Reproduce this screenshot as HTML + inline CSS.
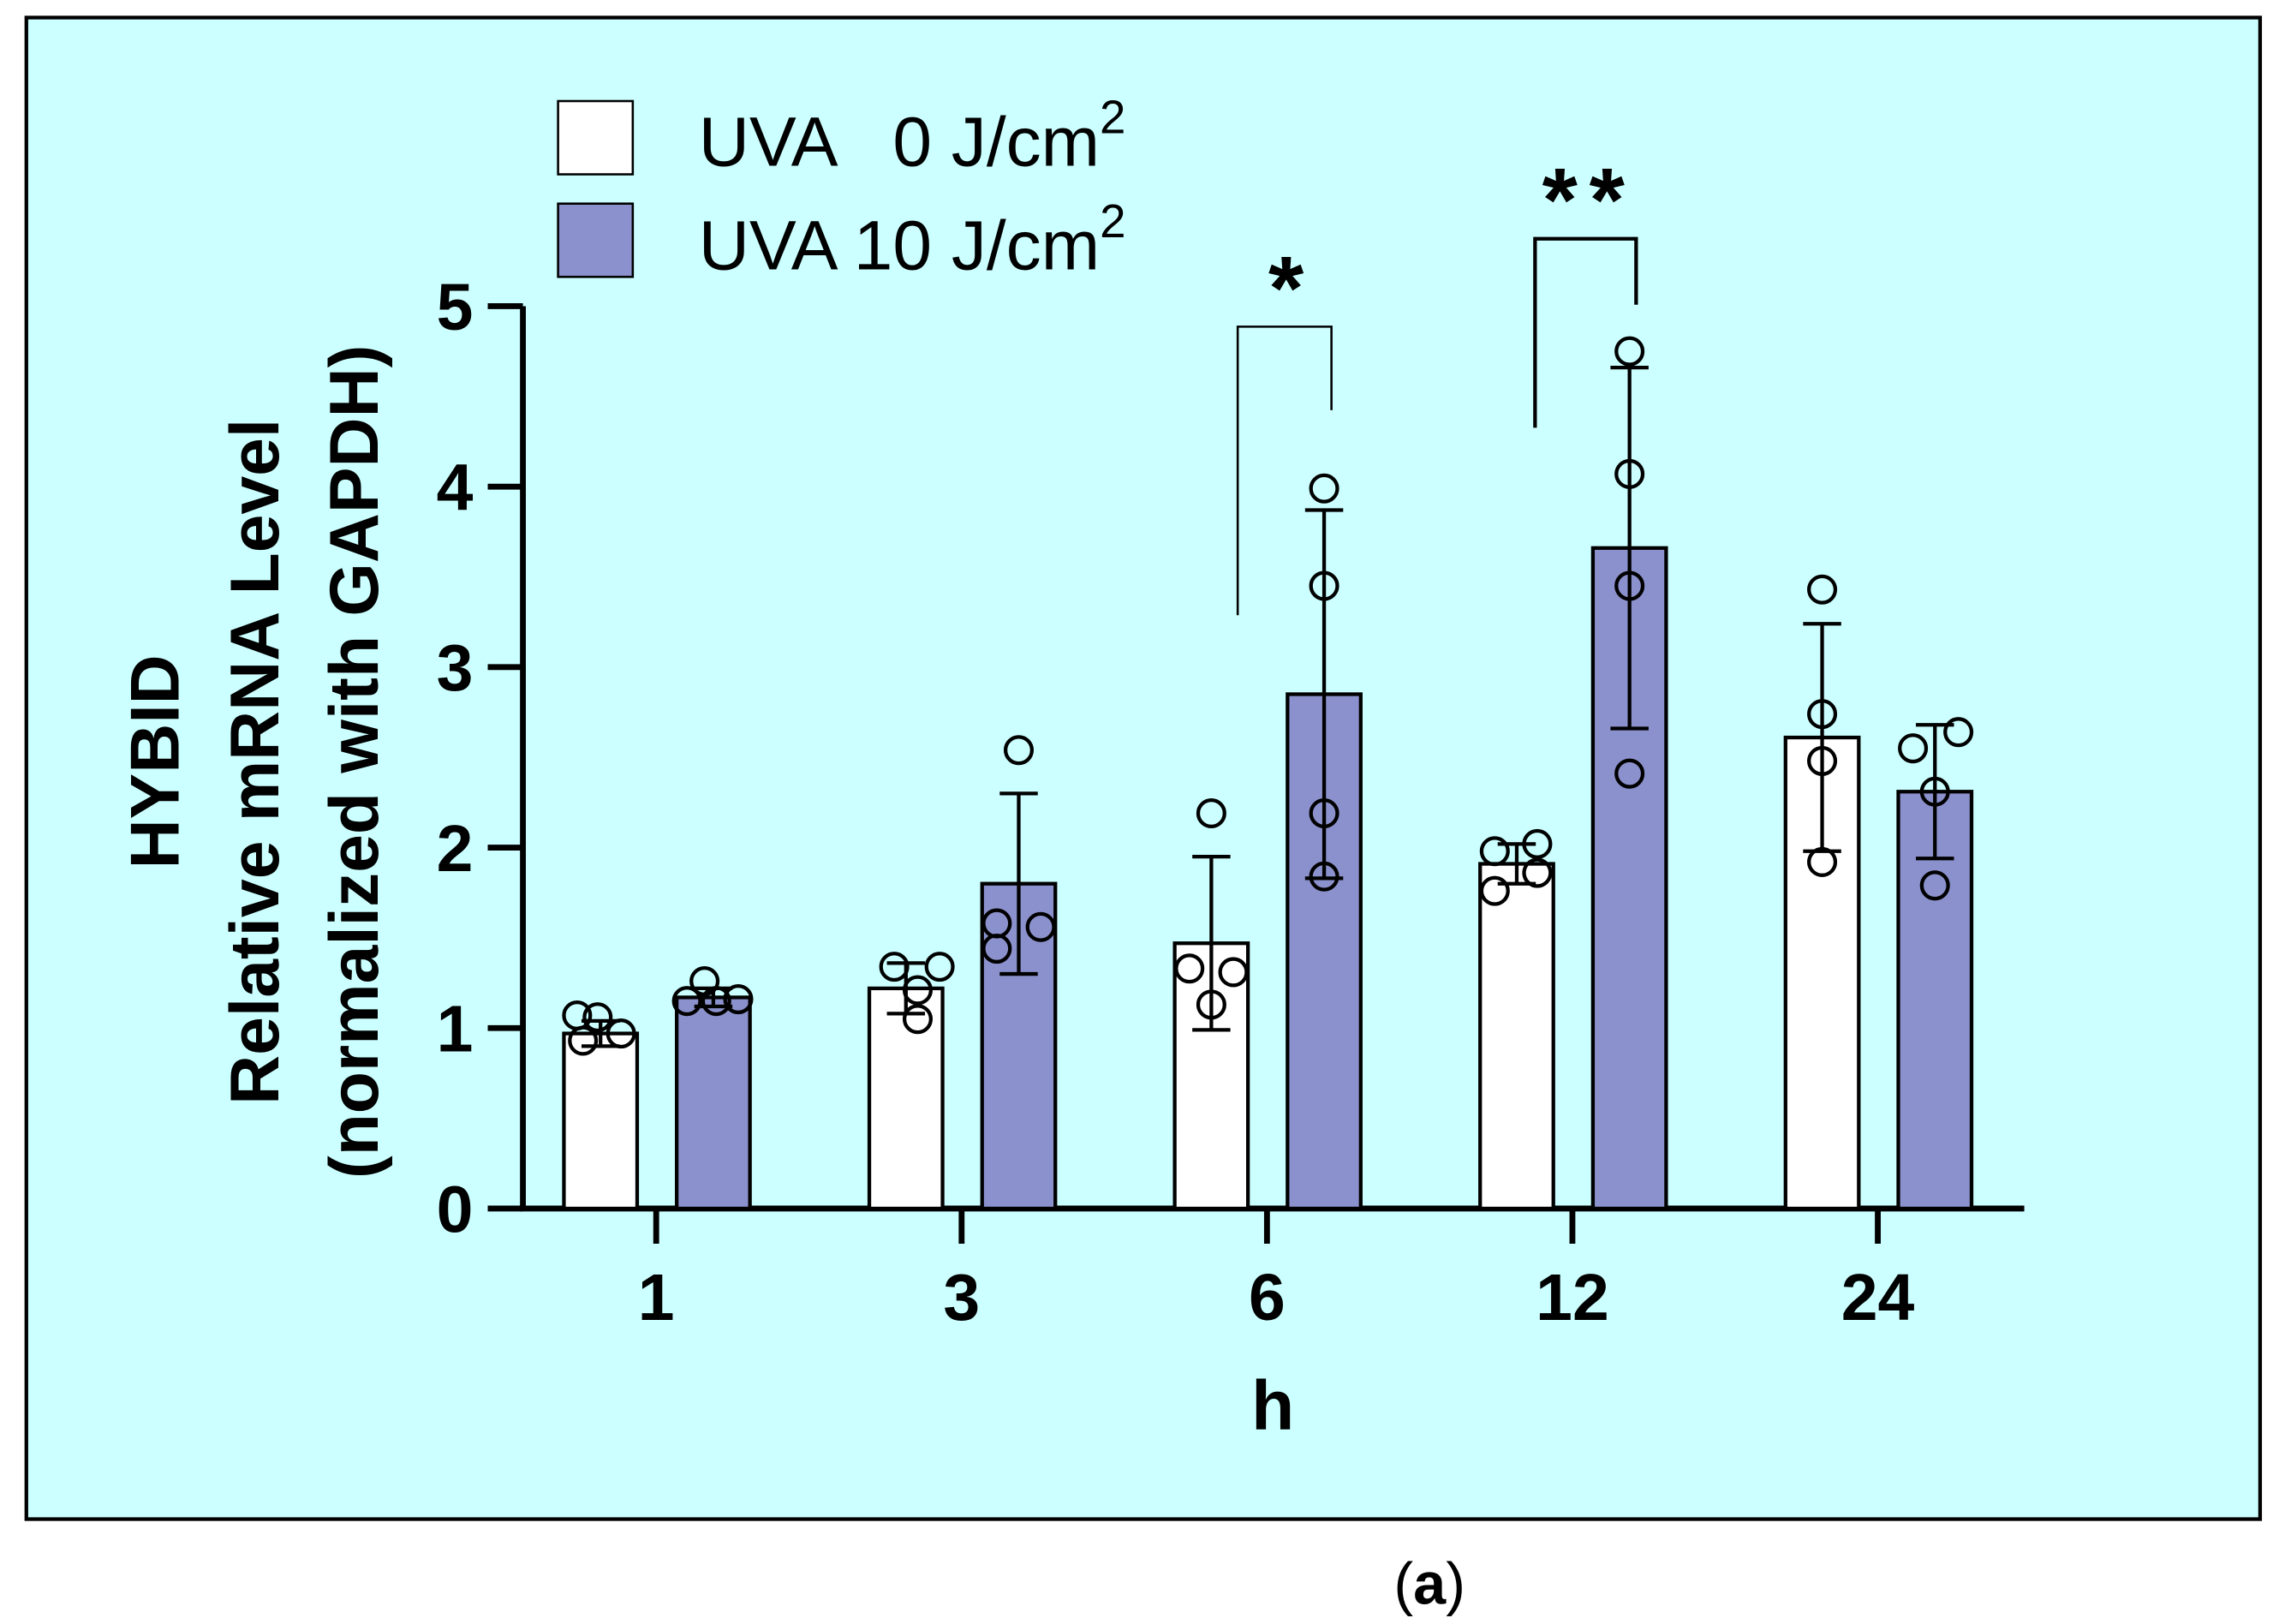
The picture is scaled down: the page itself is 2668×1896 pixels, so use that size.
<!DOCTYPE html>
<html><head><meta charset="utf-8"><style>
html,body{margin:0;padding:0;background:#fff;width:2668px;height:1896px;overflow:hidden}
svg{display:block}
text{font-family:"Liberation Sans",Arial,sans-serif}
</style></head><body>
<svg id="chart" width="2668" height="1896" viewBox="0 0 1560 1108.6" preserveAspectRatio="none" xmlns="http://www.w3.org/2000/svg">
<rect x="18" y="12" width="1525" height="1025" fill="#ccffff" stroke="#000" stroke-width="2.5"/>
<g id="marks"></g>
<g>
<rect x="381" y="69" width="51" height="50" fill="#fff" stroke="#000" stroke-width="1.5"/>
<text x="477" y="113" font-size="48" xml:space="preserve">UVA   0 J/cm<tspan dy="-22" font-size="32">2</tspan></text>
<rect x="381" y="139" width="51" height="50" fill="#8b91cc" stroke="#000" stroke-width="1.5"/>
<text x="477" y="184" font-size="48">UVA 10 J/cm<tspan dy="-22" font-size="32">2</tspan></text>
</g>
<g font-weight="bold" font-size="47" text-anchor="middle">
<text transform="translate(122,520) rotate(-90)">HYBID</text>
<text transform="translate(190,520) rotate(-90)">Relative mRNA Level</text>
<text transform="translate(258,520) rotate(-90)">(normalized with GAPDH)</text>
</g>
<text x="869" y="976" font-size="48" font-weight="bold" text-anchor="middle">h</text>
<text x="976" y="1095" font-size="40" text-anchor="middle" font-family="Liberation Serif,serif">(<tspan font-weight="bold">a</tspan>)</text>
<g>
<polyline points="845,420 845,223 909,223 909,280" fill="none" stroke="#000" stroke-width="1.5"/>
<text x="878" y="218" font-size="62" font-weight="bold" text-anchor="middle">*</text>
</g>
<g>
<polyline points="1048,292 1048,163 1117,163 1117,208" fill="none" stroke="#000" stroke-width="2.5"/>
<text x="1085" y="158" font-size="62" font-weight="bold" text-anchor="middle" letter-spacing="8">**</text>
</g>
</svg>
<script>
const categories = ['1','3','6','12','24'];
const yTicks = [0,1,2,3,4,5];
const meanCtrl = [0.97,1.22,1.47,1.91,2.61];
const meanUva = [1.17,1.80,2.85,3.66,2.31];
const sdCtrl = [0.07,0.14,0.48,0.11,0.63];
const sdUva = [0.05,0.50,1.02,1.00,0.37];
const ptsCtrl = [[1.07,1.06,0.93,0.97],[1.34,1.34,1.21,1.05],[2.19,1.33,1.31,1.13],[1.98,2.02,1.76,1.86],[3.43,2.74,2.48,1.92]];
const ptsUva = [[1.26,1.15,1.15,1.16],[2.54,1.58,1.56,1.44],[3.99,3.45,2.19,1.84],[4.75,4.07,3.45,2.41],[2.55,2.64,2.31,1.79]];
const jitCtrl = [[-16,-2,-12,14],[-8,23,8,8],[0,-15,15,0],[-15,14,-15,14],[0,0,0,0]];
const jitUva = [[-6,-18,2,17],[0,-15,15,-15],[0,0,0,0],[0,0,0,0],[-15,16,0,0]];
const NS='http://www.w3.org/2000/svg';
const g=document.getElementById('marks');
const y=v=>825-123.2*v;
const gx=i=>448+208.5*i;
function mk(t,a){const e=document.createElementNS(NS,t);for(const k in a)e.setAttribute(k,a[k]);g.appendChild(e);return e;}
let ax=mk('line',{x1:357,y1:209,x2:357,y2:826,stroke:'#000','stroke-width':4});


let bx=mk('line',{x1:355,y1:825,x2:1382,y2:825,stroke:'#000','stroke-width':4});


yTicks.forEach(t=>{
 const l=mk('line',{x1:333,y1:y(t),x2:357,y2:y(t),stroke:'#000','stroke-width':4});
 
 
 const tx=mk('text',{x:323,y:y(t)+16,'font-size':45,'font-weight':'bold','text-anchor':'end'});
 tx.textContent=t;
 
 
});
categories.forEach((c,i)=>{
 const l=mk('line',{x1:gx(i),y1:825,x2:gx(i),y2:849,stroke:'#000','stroke-width':4});
 
 
 const tx=mk('text',{x:gx(i),y:901,'font-size':45,'font-weight':'bold','text-anchor':'middle'});
 tx.textContent=c;
 
 
});
function series(means,sds,pts,jit,off,fill,name){
 means.forEach((m,i)=>{
  const cx=gx(i)+off;
  const r=mk('rect',{x:cx-25,y:y(m),width:50,height:825-y(m),fill:fill,stroke:'#000','stroke-width':2.5});
  
  
  const e=mk('path',{d:`M${cx},${y(m-sds[i])}V${y(m+sds[i])}M${cx-13},${y(m+sds[i])}H${cx+13}M${cx-13},${y(m-sds[i])}H${cx+13}`,stroke:'#000','stroke-width':2.5,fill:'none'});
  
  
  pts[i].forEach((p,j)=>{
   const c=mk('circle',{cx:cx+jit[i][j],cy:y(p),r:9,fill:'none',stroke:'#000','stroke-width':2.5});
   
   
  });
 });
}
series(meanCtrl,sdCtrl,ptsCtrl,jitCtrl,-38,'#ffffff','uva0');
series(meanUva,sdUva,ptsUva,jitUva,39,'#8b91cc','uva10');
</script>
</body></html>
